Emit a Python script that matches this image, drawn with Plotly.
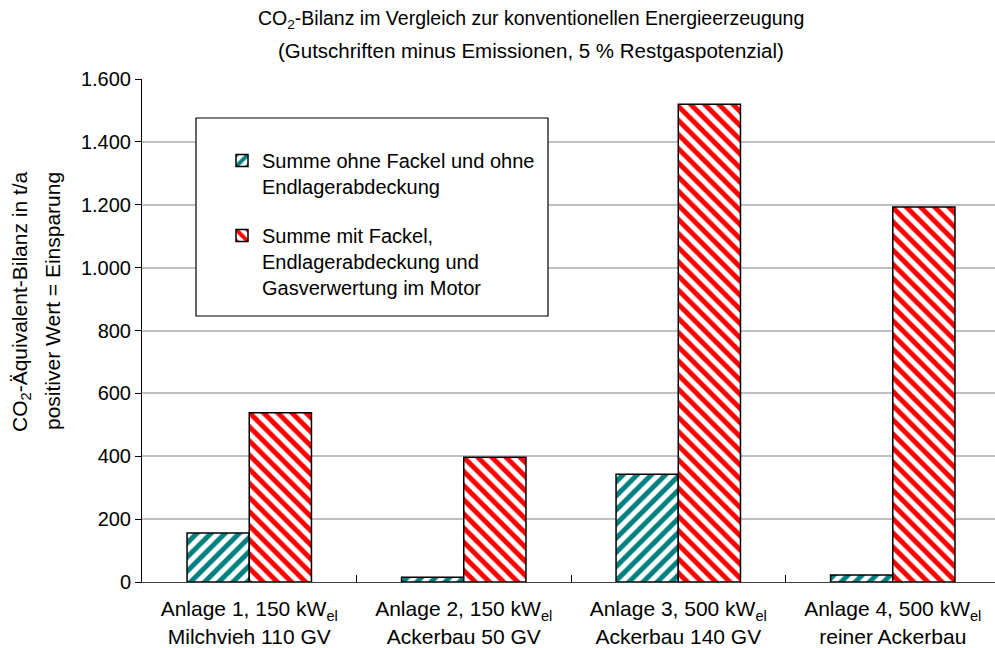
import plotly.graph_objects as go

# Data
categories = [
    "Anlage 1, 150 kW<sub>el</sub><br>Milchvieh 110 GV",
    "Anlage 2, 150 kW<sub>el</sub><br>Ackerbau 50 GV",
    "Anlage 3, 500 kW<sub>el</sub><br>Ackerbau 140 GV",
    "Anlage 4, 500 kW<sub>el</sub><br>reiner Ackerbau",
]
series_names = [
    "Summe ohne Fackel und ohne<br>Endlagerabdeckung",
    "Summe mit Fackel,<br>Endlagerabdeckung und<br>Gasverwertung im Motor",
]
ohne_fackel = [156, 15, 343, 22]
mit_fackel = [538, 397, 1520, 1193]
y_ticks = [0, 200, 400, 600, 800, 1000, 1200, 1400, 1600]
y_tick_labels = ["0", "200", "400", "600", "800", "1.000", "1.200", "1.400", "1.600"]
title_lines = [
    "CO<sub>2</sub>-Bilanz im Vergleich zur konventionellen Energieerzeugung",
    "(Gutschriften minus Emissionen, 5 % Restgaspotenzial)",
]
y_title_lines = [
    "CO<sub>2</sub>-Äquivalent-Bilanz in t/a",
    "positiver Wert = Einsparung",
]

W, H = 995, 648
ML, MR, MT, MB = 142, 0, 79, 66
PW, PH = W - ML - MR, H - MT - MB


def px_x(p):
    return (p - ML) / PW


def px_y(p):
    return (H - MB - p) / PH


FONT = "Arial, Liberation Sans, sans-serif"

fig = go.Figure()
fig.add_trace(go.Bar(
    x=categories, y=ohne_fackel, name=series_names[0], legendgroup="a",
    marker=dict(color="#008080", line=dict(color="black", width=1.5),
                pattern=dict(shape="/", fgcolor="#008080", bgcolor="white",
                             fgopacity=1, size=10, solidity=0.5)),
))
fig.add_trace(go.Bar(
    x=categories, y=mit_fackel, name=series_names[1], legendgroup="b",
    marker=dict(color="#ff0000", line=dict(color="black", width=1.5),
                pattern=dict(shape="\\", fgcolor="#ff0000", bgcolor="white",
                             fgopacity=1, size=10, solidity=0.5)),
))

fig.update_layout(
    width=W, height=H,
    margin=dict(l=ML, r=MR, t=MT, b=MB, pad=0),
    paper_bgcolor="white", plot_bgcolor="white",
    font=dict(family=FONT, size=20, color="black"),
    barmode="group", bargap=0.42, bargroupgap=0,
    legend=dict(
        x=px_x(222), y=px_y(141), xanchor="left", yanchor="top",
        bgcolor="rgba(0,0,0,0)", borderwidth=0,
        valign="top", tracegroupgap=20,
        font=dict(family=FONT, size=20, color="black"),
        itemwidth=30,
    ),
    showlegend=True,
)

fig.update_xaxes(
    type="category", range=[-0.5, 3.5 - 5 / (PW / 4)],
    showline=True, linecolor="#404040", linewidth=1,
    ticks="inside", ticklen=7, tickcolor="black", tickson="boundaries",
    showgrid=False, zeroline=False, ticklabelstandoff=8,
    tickfont=dict(family=FONT, size=21, color="black"),
)
fig.update_yaxes(
    range=[0, 1600], tickvals=y_ticks, ticktext=y_tick_labels,
    showline=True, linecolor="black", linewidth=1,
    ticks="outside", ticklen=6, tickcolor="black",
    showgrid=True, gridcolor="#c0c0c0", gridwidth=1.5,
    zeroline=False,
    tickfont=dict(family=FONT, size=20, color="black"),
)

# Legend frame
fig.add_shape(type="rect", xref="paper", yref="paper",
              x0=px_x(196), x1=px_x(548), y0=px_y(316), y1=px_y(118),
              line=dict(color="black", width=1.2), fillcolor="white", layer="above")

# Chart title, one annotation per line
for text, yc, fs in zip(title_lines, [20, 51], [19.5, 20.5]):
    fig.add_annotation(
        xref="paper", yref="paper", x=px_x(531), y=px_y(yc),
        xanchor="center", yanchor="middle", showarrow=False,
        text=text, font=dict(family=FONT, size=fs, color="black"),
    )

# Y axis title, one rotated annotation per line
for text, xc in zip(y_title_lines, [21, 52]):
    fig.add_annotation(
        xref="paper", yref="paper", x=px_x(xc), y=px_y(301),
        xanchor="center", yanchor="middle", textangle=-90, showarrow=False,
        text=text, font=dict(family=FONT, size=21, color="black"),
    )

fig.write_html("out.html")
